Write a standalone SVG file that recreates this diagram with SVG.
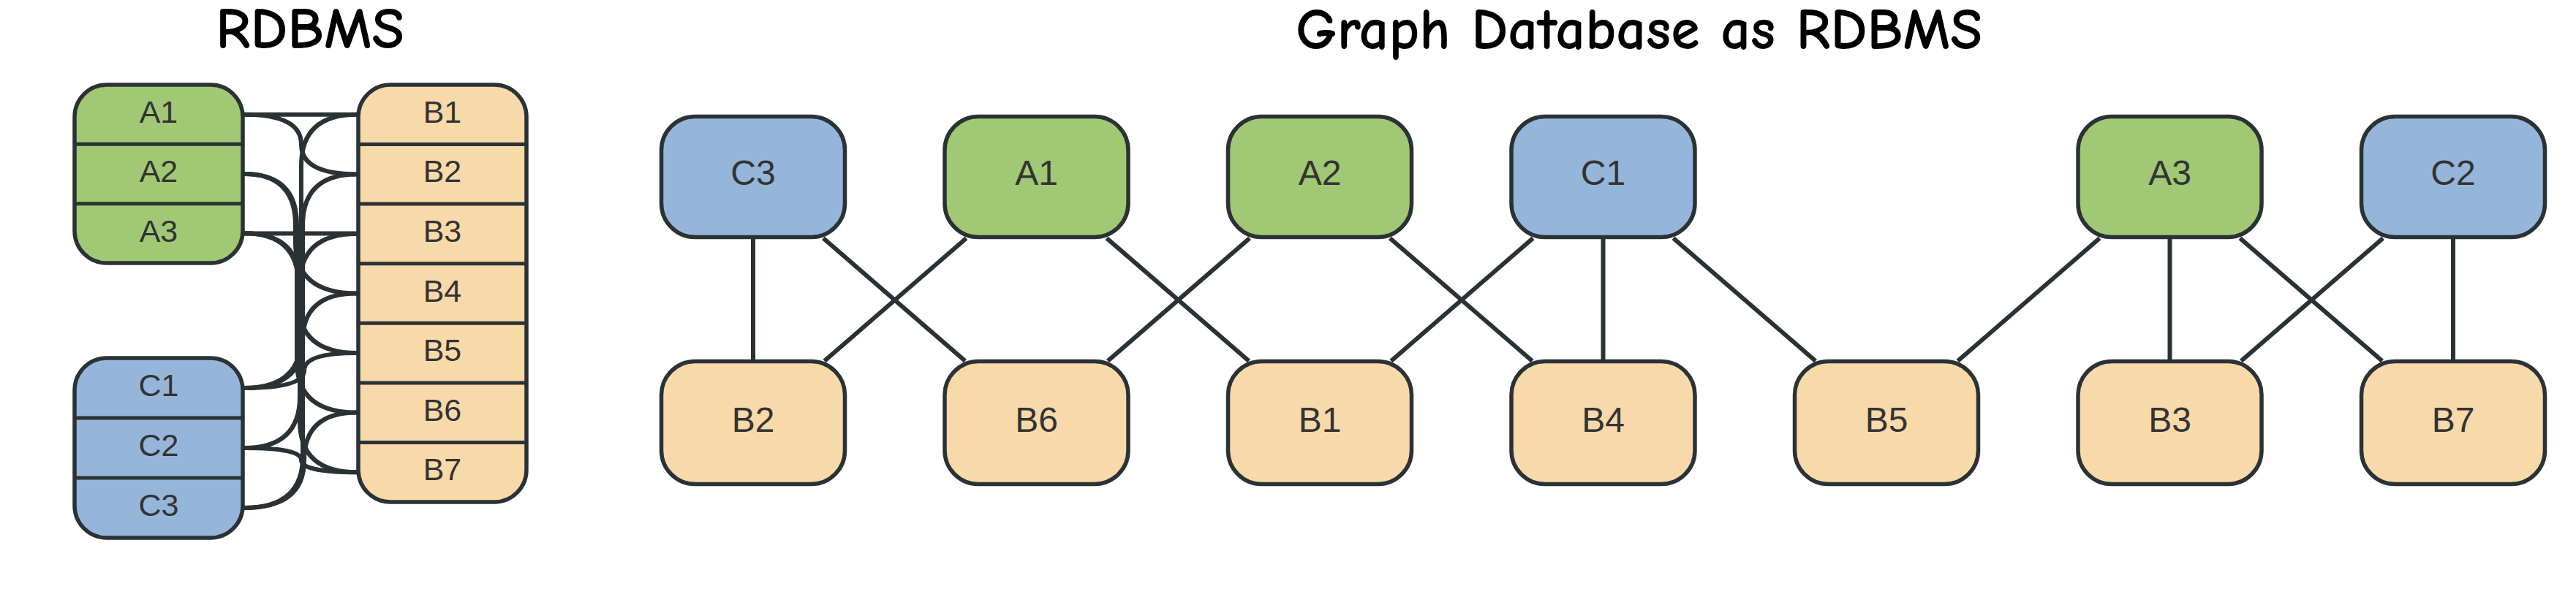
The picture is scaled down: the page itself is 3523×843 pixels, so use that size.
<svg xmlns="http://www.w3.org/2000/svg" width="3523" height="843" viewBox="0 0 3523 843">
<style>
.title{font-family:"Comic Sans MS","Comic Neue","Noto Sans",sans-serif;font-size:80px;font-weight:700;fill:#000}
.lbl{font-family:"Liberation Sans",Arial,sans-serif;fill:#333;text-anchor:middle}
.row{font-size:43px}
.nd{font-size:48px}
.box{stroke:#2b3235;stroke-width:5.5}
.div{stroke:#2b3235;stroke-width:5}
.green{fill:#a1c875}
.blue{fill:#95b6da}
.peach{fill:#f7d9aa}
.edge{fill:none;stroke:#2b3235;stroke-width:6}
</style>
<rect width="3523" height="843" fill="#fff"/>
<text class="title" x="295" y="66" textLength="258" lengthAdjust="spacingAndGlyphs">RDBMS</text>
<text class="title" x="1772" y="67" textLength="939" lengthAdjust="spacingAndGlyphs">Graph Database as RDBMS</text>

<g id="connectors">
<g id="rdbms-connectors">
<path class="edge" d="M334 156.8 L488 156.8"/>
<path class="edge" d="M334 156.7 Q412 156.7 412 197.5 Q412 238.4 488 238.4"/>
<path class="edge" d="M334 238 Q404 238 404 308 L404 331.5 Q404 401.5 488 401.5"/>
<path class="edge" d="M334 238 Q406 238 406 308 L406 494.6 Q406 564.6 488 564.6"/>
<path class="edge" d="M334 319.6 L488 319.6"/>
<path class="edge" d="M334 319.3 Q408 319.3 408 389.3 L408 413.1 Q408 483.1 488 483.1"/>
<path class="edge" d="M334 319.3 Q410 319.3 410 389.3 L410 576.2 Q410 646.2 488 646.2"/>
<path class="edge" d="M334 531 Q412 531 412 461 L412 226.8 Q412 156.8 488 156.8"/>
<path class="edge" d="M334 531 Q414 531 414 466.25 Q414 401.5 488 401.5"/>
<path class="edge" d="M334 531 Q416 531 416 507 Q416 483.1 488 483.1"/>
<path class="edge" d="M334 613 Q410 613 410 543 L410 389.9 Q410 319.9 488 319.9"/>
<path class="edge" d="M334 613 Q412 613 412 629.6 Q412 646.2 488 646.2"/>
<path class="edge" d="M334 695 Q414 695 414 625 L414 308.4 Q414 238.4 488 238.4"/>
<path class="edge" d="M334 695 Q416 695 416 629.8 Q416 564.6 488 564.6"/>
</g>
<g id="graph-connectors">
<line class="edge" x1="1030" y1="326" x2="1030" y2="494"/>
<line class="edge" x1="1126" y1="326" x2="1320" y2="494"/>
<line class="edge" x1="1321.5" y1="326" x2="1127.5" y2="494"/>
<line class="edge" x1="1513.5" y1="326" x2="1708" y2="494"/>
<line class="edge" x1="1709" y1="326" x2="1515" y2="494"/>
<line class="edge" x1="1901" y1="326" x2="2095.5" y2="494"/>
<line class="edge" x1="2096.5" y1="326" x2="1902.5" y2="494"/>
<line class="edge" x1="2192.5" y1="326" x2="2192.5" y2="494"/>
<line class="edge" x1="2288.5" y1="326" x2="2483" y2="494"/>
<line class="edge" x1="2871.5" y1="326" x2="2677.5" y2="494"/>
<line class="edge" x1="2967.5" y1="326" x2="2967.5" y2="494"/>
<line class="edge" x1="3063.5" y1="326" x2="3258" y2="494"/>
<line class="edge" x1="3259" y1="326" x2="3065" y2="494"/>
<line class="edge" x1="3355" y1="326" x2="3355" y2="494"/>
</g>
</g>

<g id="table-A">
<rect class="box green" x="102" y="116" width="230" height="244" rx="44"/>
<line class="div" x1="102" y1="197.3" x2="332" y2="197.3"/>
<line class="div" x1="102" y1="278.7" x2="332" y2="278.7"/>
<text class="lbl row" x="217" y="167.5">A1</text>
<text class="lbl row" x="217" y="249">A2</text>
<text class="lbl row" x="217" y="330.5">A3</text>
</g>
<g id="table-B">
<rect class="box peach" x="490" y="116" width="230" height="571" rx="44"/>
<line class="div" x1="490" y1="197.6" x2="720" y2="197.6"/>
<line class="div" x1="490" y1="279.1" x2="720" y2="279.1"/>
<line class="div" x1="490" y1="360.7" x2="720" y2="360.7"/>
<line class="div" x1="490" y1="442.3" x2="720" y2="442.3"/>
<line class="div" x1="490" y1="523.9" x2="720" y2="523.9"/>
<line class="div" x1="490" y1="605.4" x2="720" y2="605.4"/>
<text class="lbl row" x="605" y="167.8">B1</text>
<text class="lbl row" x="605" y="249.4">B2</text>
<text class="lbl row" x="605" y="330.9">B3</text>
<text class="lbl row" x="605" y="412.5">B4</text>
<text class="lbl row" x="605" y="494.1">B5</text>
<text class="lbl row" x="605" y="575.6">B6</text>
<text class="lbl row" x="605" y="657.2">B7</text>
</g>
<g id="table-C">
<rect class="box blue" x="102" y="490" width="230" height="246" rx="44"/>
<line class="div" x1="102" y1="572" x2="332" y2="572"/>
<line class="div" x1="102" y1="654" x2="332" y2="654"/>
<text class="lbl row" x="217" y="542">C1</text>
<text class="lbl row" x="217" y="624">C2</text>
<text class="lbl row" x="217" y="706">C3</text>
</g>

<g id="node-C3"><rect class="box blue" x="904.5" y="159.5" width="251" height="165" rx="46"/><text class="lbl nd" x="1030" y="253">C3</text></g>
<g id="node-A1"><rect class="box green" x="1292" y="159.5" width="251" height="165" rx="46"/><text class="lbl nd" x="1417.5" y="253">A1</text></g>
<g id="node-A2"><rect class="box green" x="1679.5" y="159.5" width="251" height="165" rx="46"/><text class="lbl nd" x="1805" y="253">A2</text></g>
<g id="node-C1"><rect class="box blue" x="2067" y="159.5" width="251" height="165" rx="46"/><text class="lbl nd" x="2192.5" y="253">C1</text></g>
<g id="node-A3"><rect class="box green" x="2842" y="159.5" width="251" height="165" rx="46"/><text class="lbl nd" x="2967.5" y="253">A3</text></g>
<g id="node-C2"><rect class="box blue" x="3229.5" y="159.5" width="251" height="165" rx="46"/><text class="lbl nd" x="3355" y="253">C2</text></g>

<g id="node-B2"><rect class="box peach" x="904.5" y="494.5" width="251" height="168" rx="46"/><text class="lbl nd" x="1030" y="591">B2</text></g>
<g id="node-B6"><rect class="box peach" x="1292" y="494.5" width="251" height="168" rx="46"/><text class="lbl nd" x="1417.5" y="591">B6</text></g>
<g id="node-B1"><rect class="box peach" x="1679.5" y="494.5" width="251" height="168" rx="46"/><text class="lbl nd" x="1805" y="591">B1</text></g>
<g id="node-B4"><rect class="box peach" x="2067" y="494.5" width="251" height="168" rx="46"/><text class="lbl nd" x="2192.5" y="591">B4</text></g>
<g id="node-B5"><rect class="box peach" x="2454.5" y="494.5" width="251" height="168" rx="46"/><text class="lbl nd" x="2580" y="591">B5</text></g>
<g id="node-B3"><rect class="box peach" x="2842" y="494.5" width="251" height="168" rx="46"/><text class="lbl nd" x="2967.5" y="591">B3</text></g>
<g id="node-B7"><rect class="box peach" x="3229.5" y="494.5" width="251" height="168" rx="46"/><text class="lbl nd" x="3355" y="591">B7</text></g>
</svg>
